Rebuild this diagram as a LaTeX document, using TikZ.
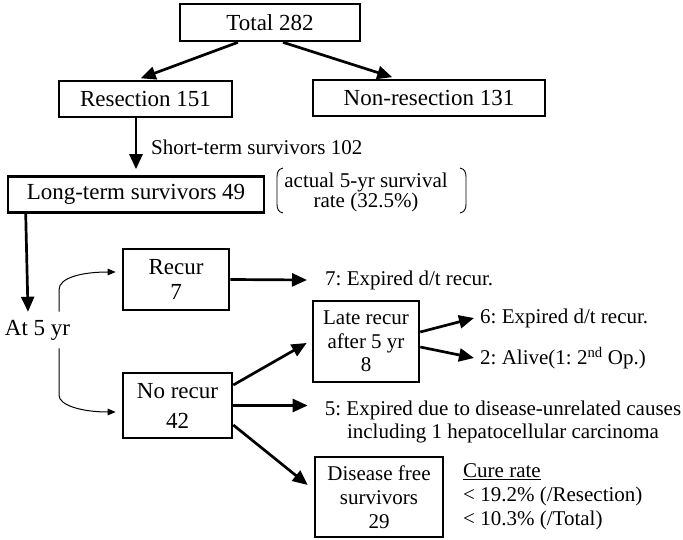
\documentclass[tikz,border=0pt]{standalone}
\usepackage{fontspec}
\setmainfont{Liberation Serif}
\usetikzlibrary{arrows.meta}
\newcommand\fsz[2]{\fontsize{#1}{#2}\selectfont}
\frenchspacing
\begin{document}
\begin{tikzpicture}[x=1pt,y=-1pt,
  box/.style={draw, line width=2.6pt, inner sep=0pt, align=center},
  txt/.style={inner sep=0pt, align=center},
  arr/.style={line width=2.7pt, -{Triangle[length=15pt,width=13pt]}},
  tarr/.style={line width=1pt, -{Triangle[length=8pt,width=6.5pt]}},
  paren/.style={line width=0.9pt}]
\fill[white] (0,0) rectangle (683,540);
\useasboundingbox (0,0) rectangle (683,540);

\node[box, minimum width=180pt, minimum height=37pt, font=\fsz{23}{26}] (total) at (270,22.5) {Total 282};
\node[box, minimum width=173pt, minimum height=36pt, font=\fsz{23}{26}] (res) at (145.5,99) {Resection 151};
\node[box, minimum width=232pt, minimum height=36pt, font=\fsz{23}{26}] (nonres) at (429,98) {Non-resection 131};
\node[box, minimum width=256pt, minimum height=36pt, font=\fsz{23}{26}] (lts) at (136,194.5) {Long-term survivors 49};
\node[txt, anchor=west, font=\fsz{21}{24}] (short) at (151,147) {Short-term survivors 102};
\node[txt, font=\fsz{21}{20}] (rate) at (366,192) {actual 5-yr survival\\rate (32.5\%)};
\node[txt, font=\fsz{23}{26}] (at5) at (37.5,330) {At 5 yr};
\node[box, minimum width=106pt, minimum height=61pt, font=\fsz{23}{25}] (recur) at (176,279.5) {Recur\\7};
\node[box, minimum width=109pt, minimum height=65pt, font=\fsz{23}{30}] (norec) at (177.5,405.5) {No recur\\42};
\node[box, minimum width=106pt, minimum height=81pt, font=\fsz{21}{23.5}] (late) at (366,341.5) {Late recur\\after 5 yr\\8};
\node[box, minimum width=128pt, minimum height=80pt, font=\fsz{21}{24}] (dfs) at (379,497) {Disease free\\survivors\\29};
\node[txt, anchor=west, font=\fsz{21}{24}] (e7) at (325,280) {7: Expired d/t recur.};
\node[txt, anchor=west, font=\fsz{21}{24}] (e6) at (480,318) {6: Expired d/t recur.};
\node[txt, anchor=west, font=\fsz{21}{24}] (a2) at (480,358) {2: Alive(1: 2\textsuperscript{nd} Op.)};
\node[txt, font=\fsz{21}{23}] (e5) at (503,421.5) {5: Expired due to disease-unrelated causes\\including 1 hepatocellular carcinoma};
\node[txt, anchor=west, align=left, font=\fsz{21}{24}] (cure) at (463,497) {\underline{Cure rate}\\< 19.2\% (/Resection)\\< 10.3\% (/Total)};

% brackets
\draw[paren] (283,168) .. controls (278.5,169) and (277,172) .. (277,177) -- (277,204) .. controls (277,209) and (278.5,212) .. (283,213);
\draw[paren] (460,168) .. controls (464.5,169) and (466,172) .. (466,177) -- (466,204) .. controls (466,209) and (464.5,212) .. (460,213);

% connectors
\draw[arr, shorten >=4pt] ([xshift=-32pt]total.south) -- ([xshift=-8.5pt]res.north);
\draw[arr, shorten >=5pt] ([xshift=13pt]total.south) -- ([xshift=-32pt]nonres.north);
\draw[arr, shorten >=6pt] ([xshift=-9.5pt]res.south) -- ([xshift=0pt]lts.north);
\draw[arr] ([xshift=19pt]lts.south west) -- ([xshift=-9.5pt,yshift=8pt]at5.north);
\draw[tarr, shorten >=6pt] ([xshift=21.5pt,yshift=8pt]at5.north) -- ++(0,-22) .. controls +(0,-12) and +(-40,0) .. ([yshift=7.5pt]recur.west);
\draw[tarr, shorten >=6pt] ([xshift=21.5pt,yshift=-8pt]at5.south) -- ++(0,47) .. controls +(0,10) and +(-40,0) .. ([yshift=-6.5pt]norec.west);
\draw[arr] (recur.east) -- ([xshift=-18pt]e7.west);
\draw[arr] ([yshift=20.5pt]norec.east) -- ([xshift=-5pt,yshift=-1.5pt]late.west);
\path (e5.west |- norec.east) coordinate (e5in);
\draw[arr] (norec.east) -- ([xshift=-17pt]e5in);
\draw[arr] ([yshift=-19.5pt]norec.east) -- ([xshift=-6pt,yshift=12pt]dfs.west);
\draw[arr] ([yshift=9.5pt]late.east) -- ([xshift=-6pt]e6.west);
\draw[arr] ([yshift=-5.5pt]late.east) -- ([xshift=-6pt]a2.west);
\end{tikzpicture}
\end{document}
